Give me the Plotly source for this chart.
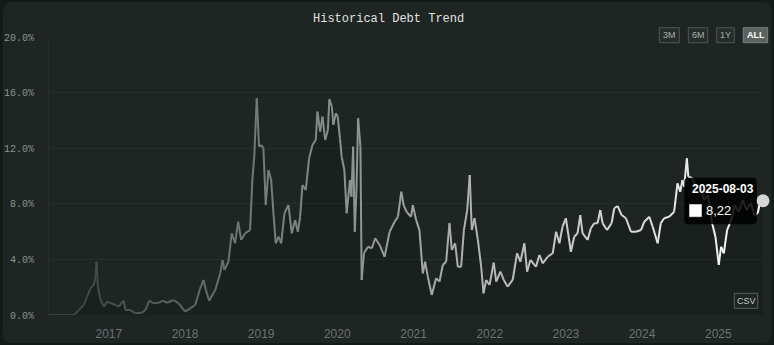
import plotly.graph_objects as go
import pandas as pd

# ---------------- data ----------------
dates = [
    "2016-03-20", "2016-07-18", "2016-08-10", "2016-09-03", "2016-09-19", "2016-10-05", "2016-10-21",
    "2016-10-29", "2016-11-03", "2016-11-09", "2016-11-22", "2016-12-08", "2016-12-24", "2017-01-09",
    "2017-02-02", "2017-02-17", "2017-03-13", "2017-03-21", "2017-04-14", "2017-05-08", "2017-06-09",
    "2017-06-25", "2017-07-14", "2017-08-04", "2017-08-28", "2017-09-16", "2017-10-07", "2017-11-07",
    "2017-12-01", "2018-01-02", "2018-01-26", "2018-02-19", "2018-03-15", "2018-03-31", "2018-04-11",
    "2018-04-27", "2018-05-26", "2018-06-19", "2018-06-30", "2018-07-09", "2018-07-28", "2018-08-13",
    "2018-08-29", "2018-09-13", "2018-09-27", "2018-10-16", "2018-11-09", "2018-11-20", "2018-11-29",
    "2018-12-11", "2018-12-22", "2019-01-01", "2019-01-12", "2019-01-23", "2019-02-05", "2019-02-18",
    "2019-03-01", "2019-03-12", "2019-03-25", "2019-04-07", "2019-04-23", "2019-05-12", "2019-05-28",
    "2019-06-13", "2019-06-26", "2019-07-07", "2019-07-18", "2019-08-03", "2019-08-19", "2019-09-04",
    "2019-09-20", "2019-09-28", "2019-10-11", "2019-10-22", "2019-11-04", "2019-11-17", "2019-11-24",
    "2019-12-06", "2019-12-13", "2019-12-25", "2020-01-03", "2020-01-14", "2020-01-22", "2020-02-04",
    "2020-02-15", "2020-03-02", "2020-03-09", "2020-03-17", "2020-03-25", "2020-04-02", "2020-04-10",
    "2020-04-21", "2020-04-27", "2020-05-08", "2020-05-27", "2020-06-15", "2020-07-01", "2020-07-22",
    "2020-08-15", "2020-09-08", "2020-10-02", "2020-10-18", "2020-11-03", "2020-11-14", "2020-11-28",
    "2020-12-04", "2020-12-20", "2020-12-28", "2021-01-13", "2021-01-29", "2021-02-14", "2021-02-25",
    "2021-03-10", "2021-03-29", "2021-04-19", "2021-05-05", "2021-05-21", "2021-06-06", "2021-06-22",
    "2021-07-03", "2021-07-19", "2021-08-01", "2021-08-17", "2021-08-30", "2021-09-15", "2021-09-27",
    "2021-10-07", "2021-10-20", "2021-11-05", "2021-11-21", "2021-12-02", "2021-12-15", "2021-12-31",
    "2022-01-20", "2022-02-01", "2022-02-21", "2022-03-09", "2022-03-28", "2022-04-21", "2022-05-12",
    "2022-05-28", "2022-06-16", "2022-06-29", "2022-07-15", "2022-08-11", "2022-08-27", "2022-09-12",
    "2022-10-06", "2022-10-30", "2022-11-15", "2022-12-01", "2022-12-16", "2023-01-01", "2023-01-25",
    "2023-02-10", "2023-02-26", "2023-03-11", "2023-03-22", "2023-04-15", "2023-05-01", "2023-05-17",
    "2023-06-02", "2023-06-15", "2023-06-26", "2023-07-17", "2023-08-08", "2023-08-21", "2023-09-06",
    "2023-09-25", "2023-10-16", "2023-11-09", "2023-12-03", "2023-12-27", "2024-01-12", "2024-02-05",
    "2024-02-21", "2024-03-16", "2024-03-31", "2024-04-16", "2024-05-10", "2024-06-03", "2024-06-19",
    "2024-07-02", "2024-07-13", "2024-07-21", "2024-08-03", "2024-08-10", "2024-08-28", "2024-09-16",
    "2024-10-05", "2024-10-24", "2024-11-12", "2024-12-02", "2024-12-18", "2025-01-03", "2025-01-14",
    "2025-01-27", "2025-02-12", "2025-03-03", "2025-03-21", "2025-04-09", "2025-04-28", "2025-05-17",
    "2025-06-05", "2025-06-24", "2025-07-09", "2025-07-22", "2025-08-03",
]
values = [
    0.00, 0.00, 0.36, 0.72, 1.32, 1.94, 2.16,
    2.76, 3.83, 2.04, 1.08, 0.60, 0.96, 0.86,
    0.72, 0.60, 1.03, 0.36, 0.36, 0.12, 0.17,
    0.36, 1.03, 0.84, 0.88, 1.03, 0.88, 1.08,
    0.84, 0.24, 0.48, 0.72, 1.92, 2.52, 1.80,
    1.03, 1.80, 3.00, 3.96, 3.24, 3.83, 5.88,
    5.16, 6.71, 5.40, 5.88, 6.11, 9.71, 11.39,
    15.59, 12.11, 12.23, 11.99, 7.91, 10.43, 9.71,
    7.32, 5.16, 5.63, 5.16, 7.32, 7.91, 5.88,
    6.83, 5.99, 7.07, 9.35, 8.99, 11.27, 12.23,
    12.59, 14.63, 13.19, 14.27, 12.59, 13.31, 15.52,
    14.99, 13.67, 14.51, 14.27, 12.71, 11.39, 10.43,
    7.32, 9.71, 8.51, 12.11, 5.99, 8.99, 14.15,
    12.11, 2.52, 4.44, 4.91, 4.80, 5.52, 5.04,
    4.19, 5.99, 6.71, 7.07, 8.87, 7.91, 7.43,
    7.32, 7.07, 7.91, 6.83, 6.11, 3.00, 3.83,
    2.76, 1.44, 2.64, 2.40, 3.60, 3.83, 6.60,
    4.68, 5.16, 3.47, 3.47, 6.11, 7.55, 10.07,
    6.11, 6.96, 5.40, 3.47, 1.56, 2.52, 2.16,
    3.76, 2.40, 3.12, 2.52, 2.04, 2.52, 4.44,
    3.83, 5.16, 3.12, 3.96, 3.47, 4.32, 3.72,
    4.19, 4.44, 5.99, 5.16, 6.35, 6.96, 4.55,
    5.63, 5.88, 7.19, 5.88, 5.40, 6.24, 6.60,
    6.60, 7.55, 6.60, 6.11, 6.60, 7.68, 7.84,
    7.19, 6.96, 5.99, 5.99, 6.11, 6.71, 7.07,
    6.35, 5.16, 6.60, 6.96, 7.07, 7.43, 9.47,
    8.87, 9.71, 9.23, 11.27, 9.95, 9.86, 9.14,
    9.35, 8.27, 8.63, 6.60, 5.63, 3.60, 4.91,
    4.44, 6.11, 6.83, 7.91, 7.41, 8.27, 7.55,
    8.06, 7.19, 7.34, 8.27, 8.22,
]
y_tick_values = [0, 4, 8, 12, 16, 20]
y_tick_labels = ["0.0%", "4.0%", "8.0%", "12.0%", "16.0%", "20.0%"]
x_tick_values = ["2017-01-01", "2018-01-01", "2019-01-01", "2020-01-01", "2021-01-01",
                 "2022-01-01", "2023-01-01", "2024-01-01", "2025-01-01"]
x_tick_labels = ["2017", "2018", "2019", "2020", "2021", "2022", "2023", "2024", "2025"]
title_text = "Historical Debt Trend"
range_buttons = ["3M", "6M", "1Y", "ALL"]
tooltip_date = "2025-08-03"
tooltip_value = "8,22"

# ---------------- layout helpers ----------------
W, H = 774, 345
L, R, T, B = 49, 11, 37, 30
PW, PH = W - L - R, H - T - B


def px(x):
    return (x - L) / PW


def py(y):
    return (H - B - y) / PH


def rounded_path(x0, y0, x1, y1, r):
    X0, X1 = px(x0), px(x1)
    Y0, Y1 = py(y0), py(y1)  # Y0 top, Y1 bottom
    rx, ry = r / PW, r / PH
    return (f"M {X0+rx},{Y0} L {X1-rx},{Y0} Q {X1},{Y0} {X1},{Y0-ry} "
            f"L {X1},{Y1+ry} Q {X1},{Y1} {X1-rx},{Y1} L {X0+rx},{Y1} "
            f"Q {X0},{Y1} {X0},{Y1+ry} L {X0},{Y0-ry} Q {X0},{Y0} {X0+rx},{Y0} Z")


OUTER = "#131a18"
CARD = "#1e2523"
GRID = "#262e2c"
MONO = "Courier New, Liberation Mono, DejaVu Sans Mono, monospace"
SANS = "Liberation Sans, Arial, Helvetica, sans-serif"

dt = pd.to_datetime(pd.Series(dates))
t0, t1 = dt.iloc[0], dt.iloc[-1]
span = (t1 - t0).total_seconds()

fig = go.Figure()

# subtle area below the line
fig.add_trace(go.Scatter(x=dates, y=values, mode="lines", line=dict(width=0),
                         fill="tozeroy", fillcolor="rgba(0,0,0,0.13)",
                         hoverinfo="skip", showlegend=False))

# gradient line, dark (old) to white (recent)
c0 = (50, 60, 57)
c1 = (252, 252, 252)
for i in range(len(dates) - 1):
    mid = dt.iloc[i] + (dt.iloc[i + 1] - dt.iloc[i]) / 2
    f = ((mid - t0).total_seconds() / span) ** 0.92
    col = tuple(int(round(a + (b - a) * f)) for a, b in zip(c0, c1))
    fig.add_trace(go.Scatter(
        x=dates[i:i + 2], y=values[i:i + 2], mode="lines",
        line=dict(color=f"rgb{col}", width=2),
        hoverinfo="skip", showlegend=False))

# hover marker on last point
fig.add_trace(go.Scatter(x=[dates[-1]], y=[values[-1]], mode="markers",
                         marker=dict(size=13, color="#d6d6d6"),
                         cliponaxis=False, hoverinfo="skip", showlegend=False))

shapes = [
    dict(type="path", xref="paper", yref="paper", path=rounded_path(3, 2, 771.5, 343, 9),
         fillcolor=CARD, line=dict(width=0), layer="below"),
]
annotations = [
    dict(text=title_text, xref="paper", yref="paper", x=px(388), y=py(19),
         xanchor="center", yanchor="middle", showarrow=False,
         font=dict(family=MONO, size=12, color="#e2e2e2")),
]

# range buttons
btn_boxes = [(659.3, 679.3), (688.3, 707.7), (716.7, 734.3), (743.3, 767.7)]
for label, (bx0, bx1) in zip(range_buttons, btn_boxes):
    active = label == "ALL"
    shapes.append(dict(type="rect", xref="paper", yref="paper",
                       x0=px(bx0), x1=px(bx1), y0=py(42.7), y1=py(27.7),
                       fillcolor="#5c6260" if active else "#262d2b",
                       line=dict(color="#7a807e" if active else "#4f5654", width=1),
                       layer="above"))
    annotations.append(dict(text=f"<b>{label}</b>" if active else label,
                            xref="paper", yref="paper", x=px((bx0 + bx1) / 2), y=py(35.3),
                            xanchor="center", yanchor="middle", showarrow=False,
                            font=dict(family=SANS, size=9,
                                      color="#ffffff" if active else "#a9aeac")))

# CSV button
shapes.append(dict(type="rect", xref="paper", yref="paper",
                   x0=px(734.3), x1=px(757.7), y0=py(308.3), y1=py(293.3),
                   fillcolor="#1e2523", line=dict(color="#5a605e", width=1), layer="above"))
annotations.append(dict(text="CSV", xref="paper", yref="paper", x=px(746), y=py(300.8),
                        xanchor="center", yanchor="middle", showarrow=False,
                        font=dict(family=SANS, size=9, color="#c4c8c6")))

# tooltip
shapes.append(dict(type="path", xref="paper", yref="paper",
                   path=rounded_path(684.3, 177.7, 756.7, 224.3, 4),
                   fillcolor="rgba(0,0,0,0.86)", line=dict(width=0), layer="above"))
shapes.append(dict(type="rect", xref="paper", yref="paper",
                   x0=px(689.5), x1=px(701.5), y0=py(216.7), y1=py(204.5),
                   fillcolor="#ffffff", line=dict(color="#ffffff", width=0.5), layer="above"))
annotations.append(dict(text=f"<b>{tooltip_date}</b>", xref="paper", yref="paper",
                        x=px(689.5), y=py(189.5), xanchor="left", yanchor="middle",
                        showarrow=False, font=dict(family=SANS, size=12, color="#ffffff")))
annotations.append(dict(text=tooltip_value, xref="paper", yref="paper",
                        x=px(703.5), y=py(210.7), xanchor="left", yanchor="middle",
                        showarrow=False, font=dict(family=SANS, size=13, color="#ffffff")))

fig.update_layout(
    width=W, height=H,
    margin=dict(l=L, r=R, t=T, b=B),
    paper_bgcolor=OUTER, plot_bgcolor="rgba(0,0,0,0)",
    showlegend=False, hovermode=False,
    shapes=shapes, annotations=annotations,
    xaxis=dict(range=[dates[0], dates[-1]], type="date", automargin=False,
               tickvals=x_tick_values, ticktext=x_tick_labels,
               showgrid=False, zeroline=False, showline=False,
               ticks="outside", ticklen=8, tickcolor="rgba(0,0,0,0)",
               tickfont=dict(family=SANS, size=12, color="#6c7371")),
    yaxis=dict(range=[0, 20], tickvals=y_tick_values, ticktext=y_tick_labels,
               automargin=False,
               showgrid=True, gridcolor=GRID, gridwidth=1, zeroline=False,
               showline=True, linecolor=GRID, linewidth=1,
               ticks="outside", ticklen=12, tickcolor="rgba(0,0,0,0)",
               tickfont=dict(family=MONO, size=10, color="#8b918f")),
)

fig.write_html("out.html")
